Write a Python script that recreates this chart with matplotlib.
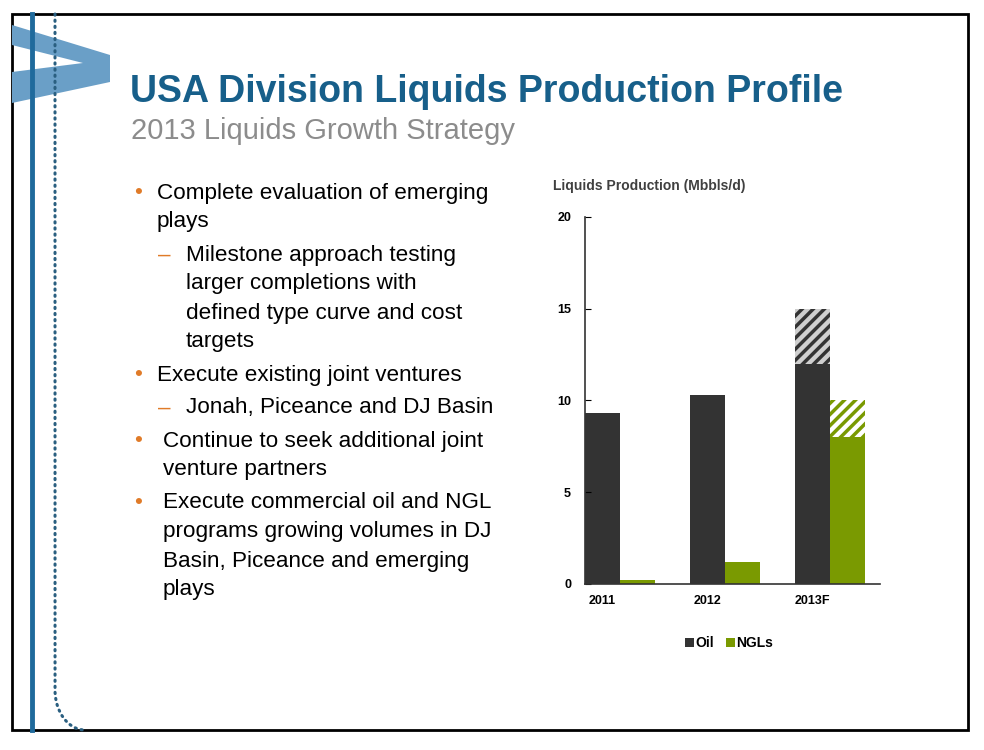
import matplotlib.pyplot as plt
from matplotlib.patches import Polygon, Rectangle
import numpy as np

plt.rcParams['font.family'] = ['Liberation Sans', 'DejaVu Sans']
plt.rcParams['hatch.linewidth'] = 2.5

years = ['2011', '2012', '2013F']
oil = [9.3, 10.3, 12.0]
oil_range = [0, 0, 3.0]
ngl = [0.2, 1.2, 8.0]
ngl_range = [0, 0, 2.0]

bullets = [
    ('•', 0, ['Complete evaluation of emerging', 'plays']),
    ('–', 1, ['Milestone approach testing', 'larger completions with',
              'defined type curve and cost', 'targets']),
    ('•', 0, ['Execute existing joint ventures']),
    ('–', 1, ['Jonah, Piceance and DJ Basin']),
    ('•', 2, ['Continue to seek additional joint', 'venture partners']),
    ('•', 2, ['Execute commercial oil and NGL', 'programs growing volumes in DJ',
              'Basin, Piceance and emerging', 'plays']),
]

W, H = 984, 750
fig = plt.figure(figsize=(9.84, 7.5), dpi=100)
bg = fig.add_axes([0, 0, 1, 1])
bg.set_xlim(0, W)
bg.set_ylim(H, 0)
bg.axis('off')

# slide frame and decorations
bg.add_patch(Rectangle((12, 14), 956, 716, fill=False, lw=2, ec='black'))
bg.plot([32, 32], [14, 730], color='#1f6a9c', lw=3.5)
t = np.linspace(0, 1, 30)
dx = np.concatenate([np.full(200, 55.0), 55 + 30 * (1 - np.cos(t * np.pi / 2))])
dy = np.concatenate([np.linspace(14, 690, 200), 690 + 40 * np.sin(t * np.pi / 2)])
bg.plot(dx, dy, color='#2a5f80', lw=2.2, ls=(0, (0.4, 1.6)), dash_capstyle='round')
bg.add_patch(Polygon([(12, 25), (110, 55), (110, 82), (12, 103), (12, 72),
                      (83, 63), (12, 45)], closed=True, fc='#6a9fc7', ec='none'))

bg.text(130, 92, 'USA Division Liquids Production Profile', fontsize=27,
        fontweight='bold', color='#175f8a', va='center')
bg.text(131, 131, '2013 Liquids Growth Strategy', fontsize=21,
        color='#8c8c8c', va='center')

y = 193
for mark, level, lines in bullets:
    if level == 1:
        bx, tx = 158, 186
    elif level == 2:
        bx, tx = 134, 163
    else:
        bx, tx = 134, 157
    bg.text(bx, y, mark, fontsize=16.2, color='#e07b28', va='center')
    for ln in lines:
        bg.text(tx, y, ln, fontsize=16.2, color='black', va='center')
        y += 29
    y += 4

bg.text(553, 186, 'Liquids Production (Mbbls/d)', fontsize=10,
        fontweight='bold', color='#404040', va='center')

# chart
ax = fig.add_axes([585 / W, 1 - 584 / H, 295 / W, 367 / H])
x = np.arange(len(years))
w = 1 / 3
ax.bar(x - w / 2, oil, w, color='#333333')
ax.bar(x - w / 2, oil_range, w, bottom=oil, color='#cfcfcf', edgecolor='#333333',
       hatch='///', lw=0)
ax.bar(x + w / 2, ngl, w, color='#7a9a01')
ax.bar(x + w / 2, ngl_range, w, bottom=ngl, color='white', edgecolor='#7a9a01',
       hatch='///', lw=0)
ax.set_xlim(-1 / 3, 2.476)
ax.set_ylim(0, 20)
ax.set_yticks([0, 5, 10, 15, 20])
ax.set_xticks(x - w / 2)
ax.set_xticklabels(years)
for s in ['top', 'right']:
    ax.spines[s].set_visible(False)
for s in ['left', 'bottom']:
    ax.spines[s].set_color('#333333')
    ax.spines[s].set_linewidth(1.2)
ax.tick_params(axis='y', length=4, direction='in', labelsize=9, pad=10)
ax.tick_params(axis='x', length=0, labelsize=9, pad=8)
for lb in ax.get_xticklabels() + ax.get_yticklabels():
    lb.set_fontweight('bold')

# range key and legend
bg.add_patch(Rectangle((670, 245), 27, 18, fc='#cfcfcf', ec='#333333',
                       hatch='///', lw=0))
bg.text(704, 254, 'Range', fontsize=12, va='center')
bg.add_patch(Rectangle((685, 638), 9, 9, fc='#333333', ec='none'))
bg.text(695, 643, 'Oil', fontsize=10, fontweight='bold', va='center')
bg.add_patch(Rectangle((726, 638), 9, 9, fc='#7a9a01', ec='none'))
bg.text(736, 643, 'NGLs', fontsize=10, fontweight='bold', va='center')

fig.savefig('out.png', dpi=100)
